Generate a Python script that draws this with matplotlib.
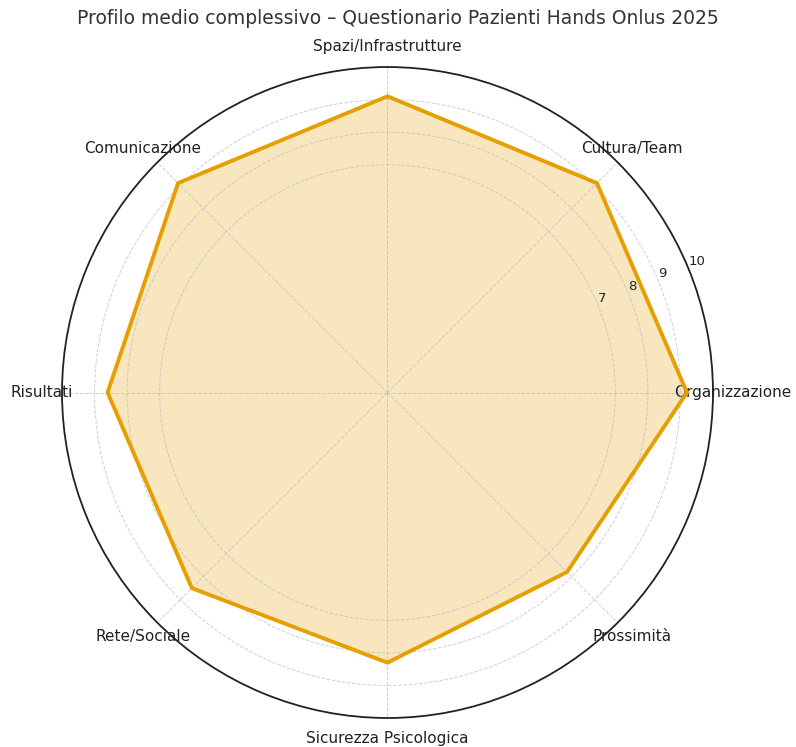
import numpy as np
import matplotlib
matplotlib.use("Agg")
import matplotlib.pyplot as plt

categories = ["Organizzazione", "Cultura/Team", "Spazi/Infrastrutture", "Comunicazione",
              "Risultati", "Rete/Sociale", "Sicurezza Psicologica", "Prossimità"]
values = [9.2, 9.1, 9.1, 9.1, 8.6, 8.5, 8.3, 7.8]
r_ticks = [7, 8, 9, 10]
r_tick_labels = ["7", "8", "9", "10"]

fig = plt.figure(figsize=(7.96, 7.47), dpi=100)
ax = fig.add_axes([0.0779, 0.0388, 0.8178, 0.8715], projection="polar")

n = len(categories)
angles = np.linspace(0, 2 * np.pi, n, endpoint=False).tolist()
vals = values + values[:1]
angs = angles + angles[:1]

ax.plot(angs, vals, color="#E69F00", linewidth=2.8)
ax.fill(angs, vals, color="#E69F00", alpha=0.25)

ax.set_ylim(0, 10)
ax.set_yticks(r_ticks)
ax.set_yticklabels(r_tick_labels, fontsize=9.5, color="#222222")
ax.set_rlabel_position(22.5)
ax.set_xticks(angles)
ax.set_xticklabels(categories, fontsize=11, color="#222222")
ax.tick_params(axis="x", pad=4)
ax.grid(True, linestyle="--", color="#b8bcc8", linewidth=0.7, alpha=0.7)
ax.spines["polar"].set_color("#222222")
ax.spines["polar"].set_linewidth(1.3)

fig.suptitle("Profilo medio complessivo – Questionario Pazienti Hands Onlus 2025",
             fontsize=13.5, color="#333333", y=0.988, va="top")

fig.savefig("out.png", dpi=100)
